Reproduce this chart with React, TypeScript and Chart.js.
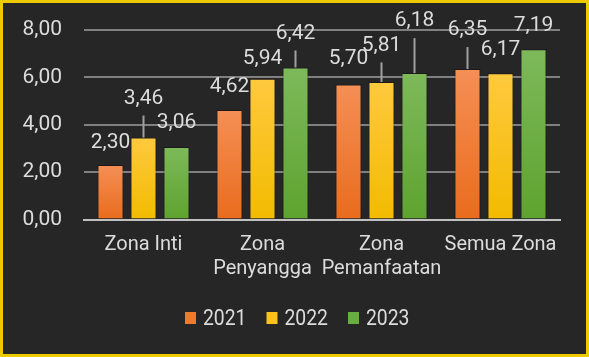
import React, { useEffect, useRef } from "react";
import { Chart, registerables } from "chart.js";

Chart.register(...registerables);

const categories: string[][] = [["Zona Inti"], ["Zona", "Penyangga"], ["Zona", "Pemanfaatan"], ["Semua Zona"]];
const seriesNames = ["2021", "2022", "2023"];
const values2021 = [2.3, 4.62, 5.7, 6.35];
const values2022 = [3.46, 5.94, 5.81, 6.17];
const values2023 = [3.06, 6.42, 6.18, 7.19];
const yMin = 0;
const yMax = 8;
const yStep = 2;

const palette = [
  { top: "#f58f55", bottom: "#e96c1d", solid: "#ee7a2e" },
  { top: "#ffc93f", bottom: "#f2bb00", solid: "#fcc21a" },
  { top: "#7db95a", bottom: "#5ea32f", solid: "#6aad3f" },
];
// vertical distance (px) from bar top to label centre
const labelLift = [
  [23, 24, 27, 40],
  [40, 21, 37.5, 25],
  [25, 35, 53, 24],
];

const NUM_FONT = "21px Roboto, 'DejaVu Sans', sans-serif";
const TEXT_COLOR = "#dcdcdc";

const fmt = (v: number) => v.toFixed(2).replace(".", ",");

const barLabels = {
  id: "barLabels",
  afterDatasetsDraw(chart: any) {
    const ctx = chart.ctx;
    ctx.save();
    ctx.font = NUM_FONT;
    ctx.textAlign = "center";
    ctx.textBaseline = "middle";
    chart.data.datasets.forEach((ds: any, di: number) => {
      const meta = chart.getDatasetMeta(di);
      meta.data.forEach((bar: any, i: number) => {
        const lift = labelLift[di][i];
        const ly = bar.y - lift;
        if (lift > 30) {
          ctx.strokeStyle = "#a0a0a0";
          ctx.lineWidth = 2;
          ctx.beginPath();
          ctx.moveTo(bar.x, ly + 18);
          ctx.lineTo(bar.x, bar.y);
          ctx.stroke();
        }
        ctx.fillStyle = TEXT_COLOR;
        ctx.fillText(fmt(ds.data[i]), bar.x, ly + 1);
      });
    });
    ctx.restore();
  },
};

const customLegend = {
  id: "customLegend",
  afterDraw(chart: any) {
    const ctx = chart.ctx;
    ctx.save();
    ctx.font = "22.5px Roboto, sans-serif";
    ctx.textBaseline = "middle";
    ctx.textAlign = "left";
    const sx = 0.86;
    let x = 182;
    const y = 315;
    chart.data.datasets.forEach((ds: any, di: number) => {
      ctx.fillStyle = palette[di].solid;
      ctx.fillRect(x, y - 6, 11, 12);
      x += 18;
      ctx.fillStyle = TEXT_COLOR;
      ctx.save();
      ctx.translate(x, y + 1);
      ctx.scale(sx, 1);
      ctx.fillText(ds.label, 0, 0);
      ctx.restore();
      x += ctx.measureText(ds.label).width * sx + 20;
    });
    ctx.restore();
  },
};

function gradientFor(di: number) {
  return (c: any) => {
    const chart = c.chart;
    const area = chart.chartArea;
    if (!area || c.type !== "data") return palette[di].solid;
    const ys = chart.scales.y;
    const v = c.raw as number;
    const top = ys.getPixelForValue(v);
    const bottom = ys.getPixelForValue(0);
    const g = chart.ctx.createLinearGradient(0, top, 0, bottom);
    g.addColorStop(0, palette[di].top);
    g.addColorStop(1, palette[di].bottom);
    return g;
  };
}

export default function App() {
  const ref = useRef<HTMLCanvasElement>(null);
  useEffect(() => {
    document.body.style.margin = "0";
    const series = [values2021, values2022, values2023];
    const chart = new Chart(ref.current!, {
      type: "bar",
      data: {
        labels: categories,
        datasets: series.map((vals, di) => ({
          label: seriesNames[di],
          data: vals,
          backgroundColor: gradientFor(di),
          borderColor: "rgba(0,0,0,0.35)",
          borderWidth: 1,
          categoryPercentage: 0.832,
          barPercentage: 0.79,
        })),
      },
      options: {
        responsive: false,
        animation: false,
        layout: { padding: { top: 27, right: 26, left: 0, bottom: 0 } },
        plugins: { legend: { display: false }, tooltip: { enabled: false } },
        scales: {
          x: {
            grid: { display: false, drawTicks: false },
            border: { display: true, color: "#c0c0c0", width: 2 },
            ticks: {
              color: TEXT_COLOR,
              font: { family: "Roboto, sans-serif", size: 20, lineHeight: 1.2 },
              padding: 13,
              maxRotation: 0,
              autoSkip: false,
            },
            afterFit: (s: any) => {
              s.height = 134.5;
            },
          },
          y: {
            min: yMin,
            max: yMax,
            grid: { color: "#808080", lineWidth: 2, drawTicks: true, tickLength: 22, tickColor: "rgba(0,0,0,0)" },
            border: { display: false },
            ticks: {
              stepSize: yStep,
              color: TEXT_COLOR,
              font: { family: "Roboto, 'DejaVu Sans', sans-serif", size: 21 },
              padding: 0,
              callback: (v: any) => fmt(Number(v)),
            },
            afterFit: (s: any) => {
              s.width = 81;
            },
          },
        },
      },
      plugins: [barLabels, customLegend],
    });
    return () => chart.destroy();
  }, []);
  return (
    <div
      style={{
        width: 589,
        height: 357,
        boxSizing: "border-box",
        border: "3px solid #eecb00",
        background: "#262626",
      }}
    >
      <canvas ref={ref} width={583} height={351} style={{ display: "block" }} />
    </div>
  );
}
